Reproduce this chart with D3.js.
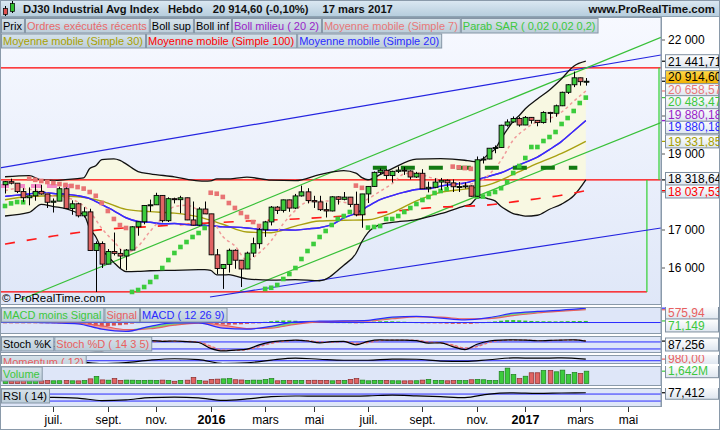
<!DOCTYPE html>
<html><head><meta charset="utf-8">
<script src="https://cdn.jsdelivr.net/npm/d3@7/dist/d3.min.js"></script>
<style>
html,body{margin:0;padding:0;background:#fff;}
svg{display:block;font-family:"Liberation Sans",Arial,Helvetica,sans-serif;}
</style></head><body>
<svg id="chart" width="720" height="430"></svg>
<script>
// ---------------- DATA ----------------
const firstWeek = "2015-05-11";
const opens = [18191,18272,18232,18011,17849,17899,18015,17947,17730,17760,18086,17568,17690,17373,17477,16460,16643,16102,16433,16385,16315,16472,17084,17216,17646,17663,17910,17245,17824,17798,17848,17265,17128,17552,17425,16347,15988,16094,16466,16205,15974,16392,16640,17007,17213,17602,17516,17793,17577,17897,18004,17774,17740,17535,17501,17873,17807,17865,17675,17400,17949,18147,18517,18571,18432,18544,18576,18553,18395,18492,18085,18124,18262,18308,18240,18138,18145,18161,17888,18848,18868,19152,19171,19757,19843,19934,19763,19964,19886,19827,20094,20071,20269,20624,20822,21005,20903];
const highs = [18289,18351,18232,18100,18120,18200,18190,17950,17830,18137,18120,17780,17720,17600,17560,16700,16700,16500,16933,16500,16500,17100,17220,17650,17800,17980,17910,17860,17850,17900,17850,17750,17600,17750,17425,16500,16100,16510,16490,16210,16430,16800,17050,17240,17630,17630,17800,17800,17950,18168,18100,17900,17900,17720,17890,17890,18000,17870,18010,17950,18150,18540,18620,18600,18560,18670,18660,18570,18530,18600,18270,18360,18370,18330,18330,18260,18250,18170,18934,18935,19150,19225,19770,19912,19988,19980,19999,19973,19890,20125,20110,20300,20640,20840,21170,21010,21000];
const lows = [17960,18200,17970,17740,17650,17770,17930,17580,17460,17760,17560,17400,17330,17330,16450,15370,16000,16100,16330,16000,15940,16470,16850,17150,17480,17660,17200,17210,17700,17440,17260,17120,17110,17420,16340,15840,15450,15880,15980,15500,15970,16290,16510,16820,17120,17420,17460,17480,17550,17880,17700,17580,17500,17330,17490,17670,17780,17600,17360,17060,17710,18140,18460,18330,18250,18500,18450,18330,18370,18085,17990,18100,18050,18130,18000,18000,18090,17880,17880,18750,18860,19020,19160,19720,19820,19719,19760,19800,19730,19800,19830,19980,20260,20580,20760,20800,20800];
const closes = [18272,18232,18011,17849,17899,18015,17947,17730,17760,18086,17568,17690,17373,17477,16460,16643,16102,16433,16385,16315,16472,17084,17216,17646,17663,17910,17245,17824,17798,17848,17265,17128,17552,17425,16347,15988,16094,16466,16205,15974,16392,16640,17007,17213,17602,17516,17793,17577,17897,18004,17774,17740,17535,17501,17873,17807,17865,17675,17400,17949,18147,18517,18571,18432,18544,18576,18553,18395,18492,18085,18124,18262,18308,18240,18138,18145,18161,17888,18848,18868,19152,19171,19757,19843,19934,19763,19964,19886,19827,20094,20071,20269,20624,20822,21005,20903,20914.6];

// Bollinger (20,2)
const bollIdx = [0,4,6,8,10,12,13,14,15,16,17,18,19,20,22,24,28,32,33,34,35,36,37,38,40,44,48,52,56,58,59,60,62,64,68,72,76,77,78,79,80,81,82,83,84,85,86,88,90,92,94,96];
const bollUp = [18401,18433,18317,18308,18325,18354,18373,18616,18691,18849,18866,18870,18830,18740,18539,18479,18400,18291,18285,18293,18344,18346,18344,18359,18392,18310,18299,18456,18563,18497,18378,18322,18456,18614,18864,18880,18836,18812,18797,18869,19013,19130,19397,19640,19861,20014,20191,20448,20686,20982,21309,21441.71];
const bollLo = [17369,17461,17673,17616,17565,17454,17413,17040,16823,16493,16310,16142,15994,15904,15911,15927,15940,15955,15957,15937,15820,15818,15824,15791,15716,15682,15695,15664,16075,16381,16698,16930,17140,17198,17272,17428,17636,17680,17841,17861,17817,17766,17617,17516,17433,17398,17363,17388,17546,17682,17901,18318.64];
// moving averages (sampled every 2 / 4 weeks)
const ma20 = [17884.8,17918.5,17946.7,17995.3,17961.9,17945.1,17904.4,17827.5,17670.5,17506.2,17322.4,17225.2,17203.3,17162.9,17169.5,17142.5,17123.3,17115.1,17081.9,17074.6,17053.5,17020.9,16996.2,17003.9,16996.5,17029.7,17059.5,17139.6,17319.1,17439.3,17625.8,17797.8,17905.9,17996.9,18067.5,18089.1,18153.8,18204,18235.7,18318.8,18415,18507,18647,18776.9,18918.2,19116,19332.2,19604.6,19880.18];
const ma7 = [18030.7,18091,18068.3,18032.1,17887.3,17857.9,17736.3,17487.7,17044.7,16696.1,16401.4,16572.4,16968.7,17319.4,17614.6,17650.4,17522.9,17337.6,16828.4,16582.4,16209.4,16396.9,16719,17166.1,17515,17737.6,17760,17760.6,17727.9,17665.1,17816.6,18017.7,18222.9,18477.1,18509,18395.6,18317,18235.6,18196.9,18246.9,18457.1,18835,19367.6,19654.9,19853.4,19934.1,20105,20387.4,20658.57];
const ma30 = [17794.5,17880.7,17899.9,17876.2,17759.8,17541.7,17483.6,17443.2,17346.1,17150.9,16947.3,16929.4,17103.4,17235.6,17255,17269.5,17456.6,17765.4,17990.9,18076.2,18193,18461.6,18751.3,19013.8,19331.85];
const ma100Idx = [0,8,16,24,32,40,48,56,64,70,72,76,80,84,88,92,96];
const ma100 = [16630,16840,17010,17090,17170,17235,17290,17370,17490,17582,17605,17624,17660,17740,17823,17915,18037.53];
// Parabolic SAR
const sar = [17632,17700,17737,17730,18351,18320,18290,18263,18237,18210,18185,18160,18130,18090,18000,17900,17711,17500,17290,17130,17053,15370,15421,15500,15632,15763,16000,16210,16395,16553,16684,16816,16921,17053,17980,17955,17870,17710,17580,17447,17342,17210,17105,15450,15480,15553,15711,15842,16000,16237,16447,16632,16816,16974,17132,17290,17368,17474,18168,18110,17063,17080,17105,17290,17290,17368,17474,17579,17684,17790,17868,17974,18026,18079,18668,18650,18630,18610,17880,17880,17950,18000,18100,18263,18500,18684,18895,19184,19184,19342,19447,19579,19790,19947,20132,20342,20483.47];
// drawn objects
const hLevels = [21267, 18318.64, 15370];
const hLevelEnd = [108.4, 108.4, 106.1];
const measureVerticals = [[108.1, 21267, 18318.64],[106.1, 18318.64, 15370]];
const trendLines = [
  {a:[-0.83,18632], b:[108.43,21605], color:"#2424e0"},
  {a:[33.88,15237], b:[108.43,17053], color:"#2424e0"},
  {a:[2.48,15158], b:[108.43,22071], color:"#38c038"},
  {a:[38.84,15395], b:[108.43,19826], color:"#38c038"}
];
const orderDashes = [{from:-1, to:11, value:18158, color:"#f48ac8"},{from:60.8, to:94.6, value:18640, color:"#127a12"}];
// sub-panel series
const macdVal = [60,20,-20,-60,-300,-400,-170,-20,-20,-250,-300,-170,30,60,70,100,240,280,200,120,220,420,500,560,647.09];
const signalVal = [80,50,10,-30,-150,-320,-280,-120,-30,-120,-270,-250,-80,30,55,65,170,255,240,165,175,310,430,510,575.94];
const macdHist = [-10,-15,-20,-25,-30,-30,-25,-20,-15,-10,-10,-15,-20,-30,-80,-140,-170,-160,-140,-120,-90,-50,10,40,60,70,70,60,50,40,30,20,10,-10,-40,-70,-90,-100,-90,-80,-60,-40,-10,30,60,80,90,90,80,60,45,30,20,15,10,10,10,5,-5,5,20,40,55,60,55,45,35,25,10,-15,-25,-35,-40,-50,-60,-60,-55,-60,-30,10,30,50,80,105,110,100,85,70,60,55,55,50,55,60,65,68,71.149];
const stochK = [85,62,45,55,40,45,22,8,6,18,25,70,92,85,88,82,75,25,3,10,18,55,80,90,96,88,72,82,85,55,85,97,95,96,92,70,72,40,15,60,88,96,97,95,90,93,96,98,87.256];
const stochD = [80,70,55,50,47,45,33,15,7,12,20,50,78,88,86,85,79,45,10,8,14,40,68,85,93,91,80,78,83,68,75,92,96,95,94,80,72,55,28,40,75,92,96,96,92,92,95,97,91];
const momentum = [300,-100,-300,-600,-1800,-1100,400,1200,700,-1700,-1300,400,1600,900,300,300,1000,900,-200,-400,600,1700,1600,1700,980];
const volumeM = [0.36,0.34,0.37,0.38,0.36,0.42,0.35,0.38,0.36,0.37,0.39,0.36,0.35,0.40,0.62,0.95,0.48,0.44,0.65,0.42,0.45,0.44,0.40,0.42,0.43,0.41,0.45,0.40,0.30,0.41,0.44,0.80,0.40,0.33,0.55,0.58,0.62,0.65,0.50,0.47,0.42,0.45,0.44,0.52,0.65,0.36,0.40,0.38,0.40,0.42,0.41,0.43,0.40,0.41,0.36,0.40,0.42,0.55,0.65,0.45,0.36,0.42,0.40,0.41,0.37,0.36,0.35,0.36,0.37,0.45,0.55,0.42,0.40,0.36,0.38,0.40,0.38,0.50,0.55,0.50,0.42,0.40,1.60,2.05,1.20,0.65,0.97,1.43,1.43,1.73,1.73,1.56,1.78,1.20,1.47,1.33,1.642];
const rsi = [55,50,51,47,33,37,50,52,48,34,42,55,59,58,58,60,64,60,55,50,70,77,74,76,77.412];
// axis
const priceTicks = [16000,17000,18000,19000,20000,21000,22000];
const tickDates = ["2015-07-06","2015-09-07","2015-11-02","2016-01-04","2016-03-07","2016-05-02","2016-07-04","2016-09-05","2016-11-07","2017-01-02","2017-03-06","2017-05-01"];
const tickLabels = ["juil.","sept.","nov.","2016","mars","mai","juil.","sept.","nov.","2017","mars","mai"];
const titleParts = ["DJ30 Industrial Avg Index","Hebdo","20 914,60 (-0,10%)","17 mars 2017"];
const legendRow1 = [["Prix","#000"],["Ordres exécutés récents","#e86a6a"],["Boll sup","#000"],["Boll inf","#000"],["Boll milieu ( 20 2)","#9a1ec8"],["Moyenne mobile (Simple 7)","#e87878"],["Parab SAR ( 0,02 0,02 0,2)","#3cc83c"]];
const legendRow2 = [["Moyenne mobile (Simple 30)","#a8a000"],["Moyenne mobile (Simple 100)","#ff0000"],["Moyenne mobile (Simple 20)","#2a2aff"]];

// ---------------- LAYOUT ----------------
const svg = d3.select("#chart");
const PR = 661;
const P = {main:[17,305], macd:[307,334], stoch:[336,353], mom:[355,364], vol:[366,386], rsi:[388,407]};
const x = d3.scaleLinear().domain([0,96]).range([5,585.8]);
const y = d3.scaleLinear().domain([15000,22000]).range([306,40]);
const loc = d3.formatLocale({decimal:",", thousands:" ", grouping:[3], currency:["",""]});
const f2 = loc.format(",.2f"), f3 = loc.format(",.3f"), f0 = loc.format(",.0f");
const idx2 = d3.range(0,97,2), idx4 = d3.range(0,97,4);
const pts = (ix, vals) => ix.map((k,j)=>[k, vals[j]]);

const defs = svg.append("defs");
function grad(id, stops){ const g = defs.append("linearGradient").attr("id",id).attr("x1",0).attr("y1",0).attr("x2",0).attr("y2",1);
  stops.forEach(s=>g.append("stop").attr("offset",s[0]).attr("stop-color",s[1])); }
grad("gMain",[[0,"#f7f9ff"],[1,"#dfe7f8"]]);
grad("gTitle",[[0,"#dce9f3"],[1,"#b5ccdc"]]);
grad("gLeg",[[0,"#d6e2ea"],[1,"#bccdd9"]]);
grad("gBox",[[0,"#ffffff"],[1,"#dde5ef"]]);
grad("gPrice",[[0,"#ffd84a"],[1,"#f0b000"]]);
Object.entries(P).forEach(([k,v])=>{
  defs.append("clipPath").attr("id","c_"+k).append("rect").attr("x",0).attr("y",v[0]).attr("width",PR).attr("height",v[1]-v[0]);
  defs.append("clipPath").attr("id","r_"+k).append("rect").attr("x",PR).attr("y",v[0]).attr("width",720-PR).attr("height",v[1]-v[0]);
});

svg.append("rect").attr("width",720).attr("height",430).attr("fill","#fff");
svg.append("rect").attr("x",0.5).attr("y",P.main[0]).attr("width",PR-0.5).attr("height",P.main[1]-P.main[0]).attr("fill","url(#gMain)");
["macd","stoch","mom","vol","rsi"].forEach(k=>{
  svg.append("rect").attr("x",0.5).attr("y",P[k][0]).attr("width",PR-0.5).attr("height",P[k][1]-P[k][0]).attr("fill","#dee6f8");
});

// ---------------- MAIN ----------------
const gm = svg.append("g").attr("clip-path","url(#c_main)");
const bollPts = bollIdx.map((k,j)=>({i:k,u:bollUp[j],l:bollLo[j]}));
gm.append("path").datum(bollPts).attr("fill","#f8f8e2")
  .attr("d", d3.area().x(d=>x(d.i)).y0(d=>y(d.l)).y1(d=>y(d.u)).curve(d3.curveMonotoneX));
hLevels.forEach((v,j)=>gm.append("line").attr("x1",0).attr("x2",x(hLevelEnd[j])).attr("y1",y(v)).attr("y2",y(v)).attr("stroke","#ff0000").attr("stroke-width",1.3));
measureVerticals.forEach(m=>gm.append("line").attr("x1",x(m[0])).attr("x2",x(m[0])).attr("y1",y(m[1])).attr("y2",y(m[2])).attr("stroke","#30d030").attr("stroke-width",1.2));
trendLines.forEach(t=>gm.append("line").attr("x1",x(t.a[0])).attr("y1",y(t.a[1])).attr("x2",x(t.b[0])).attr("y2",y(t.b[1])).attr("stroke",t.color).attr("stroke-width",1.2));
const line = d3.line().x(d=>x(d[0])).y(d=>y(d[1])).curve(d3.curveMonotoneX);
gm.append("path").datum(pts(bollIdx,bollUp)).attr("d",line).attr("fill","none").attr("stroke","#111").attr("stroke-width",1.3);
gm.append("path").datum(pts(bollIdx,bollLo)).attr("d",line).attr("fill","none").attr("stroke","#111").attr("stroke-width",1.3);
gm.append("path").datum(pts(ma100Idx,ma100)).attr("d",line).attr("fill","none").attr("stroke","#ff1a1a").attr("stroke-width",1.6).attr("stroke-dasharray","10,12");
gm.append("path").datum(pts(idx4,ma30)).attr("d",line).attr("fill","none").attr("stroke","#a8a010").attr("stroke-width",1.4);
gm.append("path").datum(pts(idx2,ma20)).attr("d",line).attr("fill","none").attr("stroke","#9a1ec8").attr("stroke-width",1.4);
gm.append("path").datum(pts(idx2,ma20)).attr("d",line).attr("fill","none").attr("stroke","#3030ff").attr("stroke-width",1.4);
gm.append("path").datum(pts(idx2,ma7)).attr("d",line).attr("fill","none").attr("stroke","#f09a9a").attr("stroke-width",1.5).attr("stroke-dasharray","3,3");
orderDashes.forEach(o=>gm.append("line").attr("x1",x(o.from)).attr("x2",x(o.to)).attr("y1",y(o.value)).attr("y2",y(o.value))
  .attr("stroke",o.color).attr("stroke-width",4).attr("stroke-dasharray", o.color==="#127a12"?"14,14":"10,6"));
gm.selectAll(".sar").data(sar).enter().append("rect")
  .attr("x",(d,i)=>x(i)-2.3).attr("y",d=>y(d)-2.3).attr("width",4.6).attr("height",4.6)
  .attr("fill",(d,i)=> d>closes[i] ? "#e87474" : "#3ccc3c");
const cw = 4.8;
const cg = gm.selectAll(".cd").data(closes).enter().append("g");
cg.append("line").attr("x1",(d,i)=>Math.round(x(i))+0.5).attr("x2",(d,i)=>Math.round(x(i))+0.5)
  .attr("y1",(d,i)=>y(highs[i])).attr("y2",(d,i)=>y(lows[i])).attr("stroke","#000").attr("stroke-width",1);
cg.append("rect").attr("x",(d,i)=>Math.round(x(i))+0.5-cw/2).attr("width",cw)
  .attr("y",(d,i)=>Math.min(y(opens[i]),y(d))).attr("height",(d,i)=>Math.max(1,Math.abs(y(opens[i])-y(d))))
  .attr("fill",(d,i)=> d>=opens[i] ? "#3ccc3c" : "#e06464").attr("stroke","#000").attr("stroke-width",0.9);
svg.append("text").attr("x",2).attr("y",302).attr("font-size",11.5).attr("fill","#000").text("© ProRealTime.com");

// ---------------- SUB PANELS ----------------
// MACD
const yM = d3.scaleLinear().domain([-450,700]).range([332.5,307]);
const gM = svg.append("g").attr("clip-path","url(#c_macd)");
const macdPts = idx4.map((k,j)=>({i:k,m:macdVal[j],s:signalVal[j]}));
gM.append("path").datum(macdPts).attr("fill","#7ad87a")
  .attr("d",d3.area().x(d=>x(d.i)).y0(d=>yM(d.s)).y1(d=>yM(Math.max(d.m,d.s))).curve(d3.curveMonotoneX));
gM.append("path").datum(macdPts).attr("fill","#f0a0a0")
  .attr("d",d3.area().x(d=>x(d.i)).y0(d=>yM(d.s)).y1(d=>yM(Math.min(d.m,d.s))).curve(d3.curveMonotoneX));
gM.selectAll(".h").data(macdHist).enter().append("rect")
  .attr("x",(d,i)=>x(i)-2).attr("width",4).attr("y",d=>Math.min(yM(d),yM(0))).attr("height",d=>Math.max(0.8,Math.abs(yM(d)-yM(0))))
  .attr("fill",d=>d>=0?"#2fbf2f":"#d85050");
gM.append("line").attr("x1",0).attr("x2",PR).attr("y1",yM(0)).attr("y2",yM(0)).attr("stroke","#2a2aff").attr("stroke-width",1);
const lM = d3.line().x(d=>x(d[0])).y(d=>yM(d[1])).curve(d3.curveMonotoneX);
gM.append("path").datum(pts(idx4,signalVal)).attr("d",lM).attr("fill","none").attr("stroke","#e86060").attr("stroke-width",1.2);
gM.append("path").datum(pts(idx4,macdVal)).attr("d",lM).attr("fill","none").attr("stroke","#2a2aff").attr("stroke-width",1.2);
// Stoch
const yS = d3.scaleLinear().domain([0,100]).range([351.3,339.6]);
const gS = svg.append("g").attr("clip-path","url(#c_stoch)");
const stPts = idx2.map((k,j)=>({i:k,k2:stochK[j],d:stochD[j]}));
gS.append("path").datum(stPts).attr("fill","#8c8ce6")
  .attr("d",d3.area().x(d=>x(d.i)).y0(d=>yS(d.d)).y1(d=>yS(Math.max(d.k2,d.d))).curve(d3.curveMonotoneX));
gS.append("path").datum(stPts).attr("fill","#f2a8a8")
  .attr("d",d3.area().x(d=>x(d.i)).y0(d=>yS(d.d)).y1(d=>yS(Math.min(d.k2,d.d))).curve(d3.curveMonotoneX));
[80,20].forEach(v=>gS.append("line").attr("x1",0).attr("x2",PR).attr("y1",yS(v)).attr("y2",yS(v)).attr("stroke","#2a2aff"));
const lS = d3.line().x(d=>x(d[0])).y(d=>yS(d[1])).curve(d3.curveMonotoneX);
gS.append("path").datum(pts(idx2,stochD)).attr("d",lS).attr("fill","none").attr("stroke","#e87070").attr("stroke-width",1.3).attr("stroke-dasharray","3,2");
gS.append("path").datum(pts(idx2,stochK)).attr("d",lS).attr("fill","none").attr("stroke","#000").attr("stroke-width",1.2);
// Momentum
const yMo = d3.scaleLinear().domain([-2000,3500]).range([364,355]);
const gMo = svg.append("g").attr("clip-path","url(#c_mom)");
gMo.append("line").attr("x1",0).attr("x2",PR).attr("y1",yMo(0)).attr("y2",yMo(0)).attr("stroke","#2a2aff");
gMo.append("path").datum(pts(idx4,momentum)).attr("d",d3.line().x(d=>x(d[0])).y(d=>yMo(d[1])).curve(d3.curveMonotoneX))
  .attr("fill","none").attr("stroke","#000").attr("stroke-width",1.2);
// Volume
const yV = d3.scaleLinear().domain([0,2.2]).range([383.5,367]);
const gV = svg.append("g").attr("clip-path","url(#c_vol)");
gV.selectAll("rect").data(volumeM).enter().append("rect")
  .attr("x",(d,i)=>Math.round(x(i))+0.5-2.3).attr("width",4.6).attr("y",d=>yV(d)).attr("height",d=>yV(0)-yV(d))
  .attr("fill",(d,i)=>closes[i]>=opens[i]?"#3ccc3c":"#e06464").attr("stroke",(d,i)=>closes[i]>=opens[i]?"#1d7d1d":"#8a2a2a").attr("stroke-width",0.7);
// RSI
const yR = d3.scaleLinear().domain([0,100]).range([406.3,388.8]);
const gR = svg.append("g").attr("clip-path","url(#c_rsi)");
[70,30].forEach(v=>gR.append("line").attr("x1",0).attr("x2",PR).attr("y1",yR(v)).attr("y2",yR(v)).attr("stroke","#2a2aff"));
gR.append("path").datum(pts(idx4,rsi)).attr("d",d3.line().x(d=>x(d[0])).y(d=>yR(d[1])).curve(d3.curveMonotoneX))
  .attr("fill","none").attr("stroke","#000").attr("stroke-width",1.2);

Object.values(P).forEach(v=>svg.append("rect").attr("x",0.5).attr("y",v[0]+0.5).attr("width",PR-0.5).attr("height",v[1]-v[0]-1)
  .attr("fill","none").attr("stroke","#8a9aaa"));

// ---------------- LEGENDS ----------------
function legend(items, y0, h, clip){
  const g = svg.append("g"); if(clip) g.attr("clip-path",`url(#${clip})`);
  let xx = 1;
  items.forEach(([t,c])=>{
    const r = g.append("rect").attr("x",xx+0.5).attr("y",y0+0.5).attr("height",h).attr("fill","url(#gLeg)").attr("stroke","#8596a6");
    const tx = g.append("text").attr("x",xx+2).attr("y",y0+h-3).attr("font-size",11).attr("fill",c).text(t);
    const w = tx.node().getComputedTextLength()+4;
    r.attr("width",w); xx += w+1;
  });
}
legend(legendRow1, 18, 14.5);
legend(legendRow2, 33.5, 14);
legend([["MACD moins Signal","#3cc83c"],["Signal","#e86060"],["MACD ( 12 26 9)","#2a2aff"]], 307.5, 14, "c_macd");
legend([["Stoch %K","#000"],["Stoch %D ( 14 3 5)","#e86060"]], 336.5, 14, "c_stoch");
legend([["Momentum ( 12)","#e86060"]], 355, 14, "c_mom");
legend([["Volume","#3cc83c"]], 366.5, 14, "c_vol");
legend([["RSI ( 14)","#000"]], 388.5, 14, "c_rsi");

// ---------------- TITLE ----------------
svg.append("rect").attr("x",0).attr("y",0).attr("width",720).attr("height",17).attr("fill","url(#gTitle)");
svg.append("line").attr("x1",0).attr("x2",720).attr("y1",16.5).attr("y2",16.5).attr("stroke","#8ea4b4");
svg.append("line").attr("x1",5.5).attr("x2",5.5).attr("y1",6).attr("y2",16).attr("stroke","#000");
svg.append("rect").attr("x",3.5).attr("y",8.5).attr("width",4).attr("height",6).attr("fill","#e05050").attr("stroke","#000").attr("stroke-width",0.7);
svg.append("line").attr("x1",12.5).attr("x2",12.5).attr("y1",1).attr("y2",13).attr("stroke","#000");
svg.append("rect").attr("x",10.5).attr("y",3.5).attr("width",4).attr("height",8).attr("fill","#30c030").attr("stroke","#000").attr("stroke-width",0.7);
const tt = svg.append("text").attr("x",23).attr("y",13).attr("font-size",11.2).attr("font-weight","bold").attr("fill","#111");
const titleGaps = [0,9,10,14];
titleParts.forEach((p,j)=>tt.append("tspan").attr("dx", titleGaps[j]).text(p));
svg.append("text").attr("x",715).attr("y",13).attr("text-anchor","end").attr("font-size",11.5).attr("font-weight","bold").attr("fill","#111").text("www.ProRealTime.com");

// ---------------- RIGHT LABELS ----------------
function relax(list, gap, lo, hi){
  list.forEach(d=>d.yy=d.y);
  for(let it=0; it<60; it++){
    list.sort((a,b)=>a.yy-b.yy);
    for(let k=0;k<list.length-1;k++){ const dd = list[k+1].yy-list[k].yy; if(dd<gap){ const m=(gap-dd)/2; list[k].yy-=m; list[k+1].yy+=m; } }
    list.forEach(d=>{ if(lo!=null) d.yy=Math.max(lo,d.yy); if(hi!=null) d.yy=Math.min(hi,d.yy); });
  }
}
function drawBox(g, d){
  g.append("line").attr("x1",PR).attr("x2",PR+4).attr("y1",d.y).attr("y2",d.y).attr("stroke",d.tick||d.color).attr("stroke-width",1.2);
  g.append("rect").attr("x",665.5).attr("y",d.yy-6.5).attr("width",53).attr("height",13).attr("fill",d.bg||"url(#gBox)").attr("stroke","#7f8f9f");
  g.append("text").attr("x",668).attr("y",d.yy+4.3).attr("font-size",12).attr("fill",d.color).text(d.text);
}
const mainLabels = [
  {v:closes[96], text:f2(closes[96]), color:"#000", bg:"url(#gPrice)", order:5},
  {v:ma7[ma7.length-1], text:f2(ma7[ma7.length-1]), color:"#e87878", order:0},
  {v:sar[96], text:f2(sar[96]), color:"#3cc83c", order:3},
  {v:ma20[ma20.length-1], text:f2(ma20[ma20.length-1]), color:"#2a2aff", order:1},
  {v:ma20[ma20.length-1]+0.001, text:f2(ma20[ma20.length-1]), color:"#9a1ec8", order:2},
  {v:ma30[ma30.length-1], text:f2(ma30[ma30.length-1]), color:"#a8a000", order:4},
  {v:bollUp[bollUp.length-1], text:f2(bollUp[bollUp.length-1]), color:"#000", order:6},
  {v:bollLo[bollLo.length-1], text:f2(bollLo[bollLo.length-1]), color:"#000", order:7},
  {v:ma100[ma100.length-1], text:f2(ma100[ma100.length-1]), color:"#ff0000", order:8}
];
mainLabels.forEach(d=>d.y=y(d.v));
relax(mainLabels, 12.5);
const gAx = svg.append("g");
priceTicks.forEach(v=>{
  const yy = y(v);
  gAx.append("line").attr("x1",PR).attr("x2",PR+4).attr("y1",yy).attr("y2",yy).attr("stroke","#555");
  if(!mainLabels.some(d=>Math.abs(d.yy-yy)<11)) gAx.append("text").attr("x",668).attr("y",yy+4.3).attr("font-size",12).attr("fill","#000").text(f0(v));
});
const gL = svg.append("g");
mainLabels.slice().sort((a,b)=>a.order-b.order).forEach(d=>drawBox(gL,d));

function subLabels(panel, list, hiMargin){
  list.forEach(d=>d.y=d.scale(d.v));
  relax(list, 12.5, P[panel][0]-20, P[panel][1]-hiMargin);
  const g = svg.append("g").attr("clip-path",`url(#r_${panel})`);
  list.forEach(d=>{ if(!d.hide) drawBox(g,d); });
}
subLabels("macd",[
  {v:macdVal[24], scale:yM, text:f2(macdVal[24]), color:"#2a2aff"},
  {v:signalVal[24], scale:yM, text:f2(signalVal[24]), color:"#e86060"},
  {v:macdHist[96], scale:yM, text:f3(macdHist[96]), color:"#3cc83c"}], 7.5);
subLabels("stoch",[
  {v:stochD[48], scale:yS, text:"", color:"#e86060", hide:true},
  {v:stochK[48], scale:yS, text:f3(stochK[48]), color:"#000"}], 8.5);
subLabels("mom",[{v:momentum[24], scale:yMo, text:f2(momentum[24]), color:"#e86060"}], 5.5);
subLabels("vol",[{v:volumeM[96], scale:yV, text:f3(volumeM[96])+"M", color:"#3cc83c"}], 7.5);
subLabels("rsi",[{v:rsi[24], scale:yR, text:f3(rsi[24]), color:"#000"}], 7.5);

svg.append("line").attr("x1",PR+0.5).attr("x2",PR+0.5).attr("y1",17).attr("y2",407).attr("stroke","#8a9aaa");

// ---------------- X AXIS ----------------
const weekIndex = d => (Date.parse(d)-Date.parse(firstWeek))/6048e5;
tickDates.forEach((d,j)=>{
  const xx = Math.round(x(weekIndex(d)))+0.5;
  svg.append("line").attr("x1",xx).attr("x2",xx).attr("y1",407).attr("y2",412).attr("stroke","#333");
  const bold = /^\d{4}$/.test(tickLabels[j]);
  svg.append("text").attr("x",xx).attr("y",424).attr("text-anchor","middle").attr("font-size",bold?12.5:12)
    .attr("font-weight",bold?"bold":"normal").attr("fill","#000").text(tickLabels[j]);
});
svg.append("rect").attr("x",0.5).attr("y",0.5).attr("width",719).attr("height",429).attr("fill","none").attr("stroke","#8a9aaa");
</script>
</body></html>
